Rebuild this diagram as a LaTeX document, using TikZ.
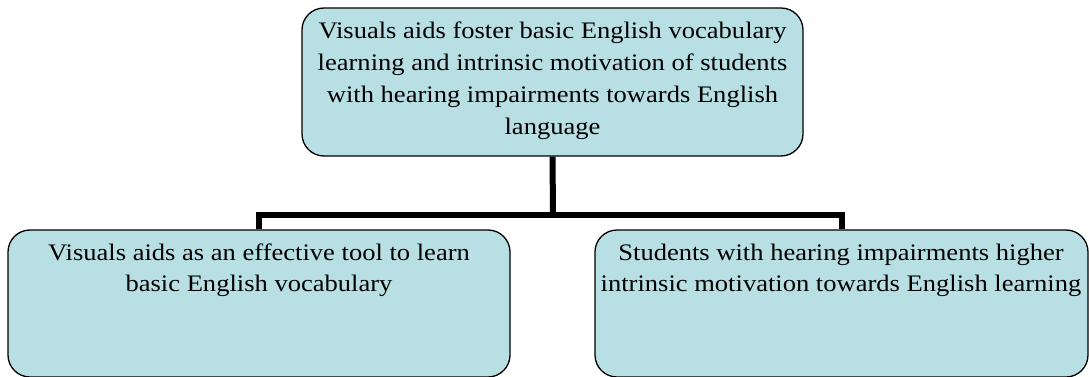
\documentclass[tikz,border=0pt]{standalone}
\usepackage{fontspec}
\setmainfont{Liberation Serif}[FakeStretch=1.12]
\definecolor{boxfill}{RGB}{184,223,227}
\begin{document}
\begin{tikzpicture}[x=1pt,y=-1pt,
  box/.style={draw=black, line width=1.3pt, fill=boxfill, rounded corners=22pt, inner sep=0pt},
  lbl/.style={inner sep=0pt, anchor=base, font=\fontsize{23.7}{31.7}\selectfont},
  conn/.style={line width=6pt, line join=miter, draw=black}]
\useasboundingbox (0,0) rectangle (1089,377);
\node[box, minimum width=501pt, minimum height=148pt] (t) at (552.5,82) {};
\node[box, minimum width=502pt, minimum height=147pt] (l) at (259,303.5) {};
\node[box, minimum width=493pt, minimum height=147pt] (r) at (841.5,303.5) {};
\node[lbl] (tt) at (552.5,39) {\parbox[t]{540pt}{\centering Visuals aids foster basic English vocabulary\\learning and intrinsic motivation of students\\with hearing impairments towards English\\language}};
\node[lbl] (lt) at (259,260) {\parbox[t]{540pt}{\centering Visuals aids as an effective tool to learn\\basic English vocabulary}};
\node[lbl] (rt) at (841,260) {\parbox[t]{540pt}{\centering Students with hearing impairments higher\\intrinsic motivation towards English learning}};
\coordinate (j) at (553,214.5);
\draw[conn] (t.south) -- (j);
\draw[conn] (l.north) |- (j) -| (r.north);
\end{tikzpicture}
\end{document}
